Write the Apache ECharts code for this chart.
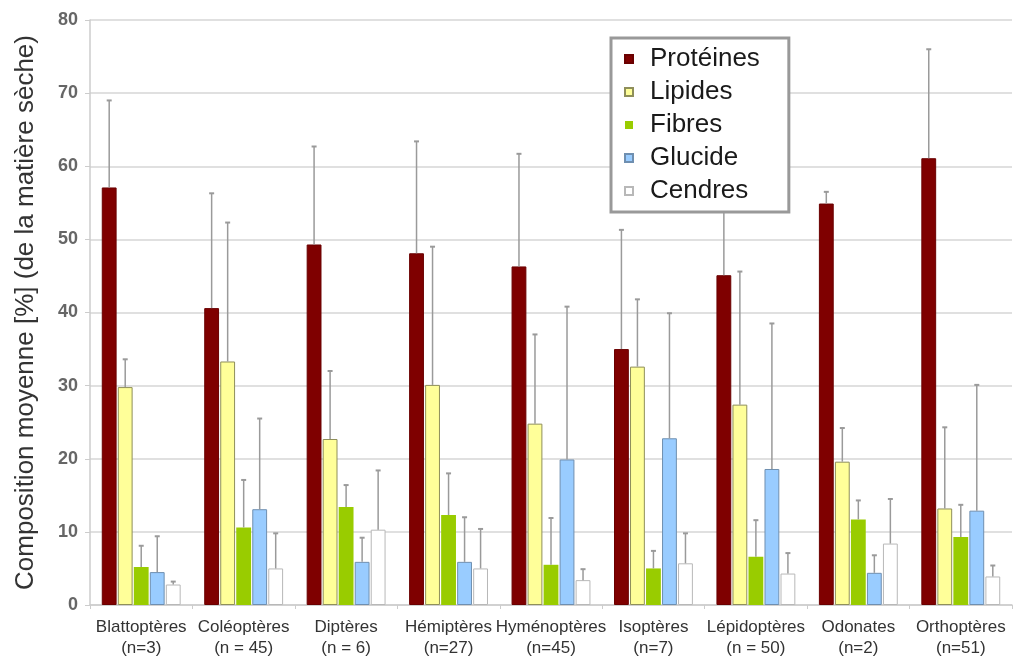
<!DOCTYPE html>
<html>
<head>
<meta charset="utf-8">
<script src="https://cdn.jsdelivr.net/npm/echarts@6/dist/echarts.min.js"></script>
<style>
html,body{margin:0;padding:0;background:#fff;}
#chart{width:1016px;height:660px;}
</style>
</head>
<body>
<div id="chart"></div>
<script>
var categories = ['Blattoptères','Coléoptères','Diptères','Hémiptères','Hyménoptères','Isoptères','Lépidoptères','Odonates','Orthoptères'];
var sampleLabels = ['(n=3)','(n = 45)','(n = 6)','(n=27)','(n=45)','(n=7)','(n = 50)','(n=2)','(n=51)'];
var seriesNames = ['Protéines','Lipides','Fibres','Glucide','Cendres'];

var proteines = [57.1, 40.6, 49.3, 48.1, 46.3, 35.0, 45.1, 54.9, 61.1];
var lipides   = [29.8, 33.3, 22.7, 30.1, 24.8, 32.6, 27.4, 19.6, 13.2];
var fibres    = [5.2, 10.6, 13.4, 12.3, 5.5, 5.0, 6.6, 11.7, 9.3];
var glucide   = [4.5, 13.1, 5.9, 5.9, 19.9, 22.8, 18.6, 4.4, 12.9];
var cendres   = [2.8, 5.0, 10.3, 5.0, 3.4, 5.7, 4.3, 8.4, 3.9];

// upper end of error bars (mean + SD)
var proteinesErr = [69.0, 56.3, 62.7, 63.4, 61.7, 51.3, 56.0, 56.5, 76.0];
var lipidesErr   = [33.6, 52.3, 32.0, 49.0, 37.0, 41.8, 45.6, 24.2, 24.3];
var fibresErr    = [8.1, 17.1, 16.4, 18.0, 11.9, 7.4, 11.6, 14.3, 13.7];
var glucideErr   = [9.4, 25.5, 9.2, 12.0, 40.8, 39.9, 38.5, 6.8, 30.1];
var cendresErr   = [3.2, 9.8, 18.4, 10.4, 4.9, 9.8, 7.1, 14.5, 5.4];

var values = [proteines, lipides, fibres, glucide, cendres];
var errs = [proteinesErr, lipidesErr, fibresErr, glucideErr, cendresErr];

var fills = ['#7f0000', '#ffff99', '#99cc00', '#99ccff', '#ffffff'];
var borders = ['#6a0000', '#8f8f5a', '#88b800', '#6f8fb0', '#b8b8b8'];

var CAT_GAP = 0.23, BAR_GAP = 0.08, N = 5;

var series = [];
seriesNames.forEach(function (name, i) {
  series.push({
    name: name,
    type: 'bar',
    data: values[i],
    barCategoryGap: '23%',
    barGap: '8%',
    itemStyle: { color: fills[i], borderColor: borders[i], borderWidth: (i === 2 ? 0 : 1) },
    z: 2
  });
});
seriesNames.forEach(function (name, i) {
  var data = values[i].map(function (v, k) { return [k, v, errs[i][k]]; });
  series.push({
    type: 'custom',
    name: name + '_err',
    data: data,
    z: 3,
    silent: true,
    encode: { x: 0, y: [1, 2] },
    renderItem: function (params, api) {
      var k = api.value(0);
      var band = api.size([1, 0])[0];
      var area = band * (1 - CAT_GAP);
      var w = area / (N + (N - 1) * BAR_GAP);
      var center = api.coord([k, 0])[0];
      var x = center - area / 2 + i * w * (1 + BAR_GAP) + w / 2;
      var y0 = api.coord([k, api.value(1)])[1];
      var y1 = api.coord([k, api.value(2)])[1];
      var style = { stroke: '#9a9a9a', lineWidth: 1.5 };
      return {
        type: 'group',
        children: [
          { type: 'line', shape: { x1: x, y1: y0, x2: x, y2: y1 }, style: style },
          { type: 'line', shape: { x1: x - 2.5, y1: y1, x2: x + 2.5, y2: y1 }, style: { stroke: '#9a9a9a', lineWidth: 2 } }
        ]
      };
    }
  });
});

var chart = echarts.init(document.getElementById('chart'), null, { renderer: 'canvas' });
chart.setOption({
  animation: false,
  backgroundColor: '#ffffff',
  textStyle: { fontFamily: 'Liberation Sans, Arial, sans-serif' },
  grid: { left: 90, right: 4, top: 20, bottom: 55, containLabel: false },
  legend: {
    data: seriesNames,
    orient: 'vertical',
    left: 611,
    top: 38,
    z: 10,
    backgroundColor: '#ffffff',
    borderColor: '#999999',
    borderWidth: 3,
    padding: [8, 29, 8, 13],
    itemWidth: 8,
    itemHeight: 8,
    itemGap: 7,
    icon: 'rect',
    selectedMode: false,
    textStyle: { fontSize: 26, color: '#1a1a1a', lineHeight: 26, padding: [0, 0, 0, 12], fontFamily: 'Liberation Sans, Arial, sans-serif' }
  },
  xAxis: {
    type: 'category',
    data: categories,
    axisLine: { show: true, lineStyle: { color: '#cccccc', width: 1.5 } },
    axisTick: { show: true, length: 4, lineStyle: { color: '#cccccc' } },
    axisLabel: {
      interval: 0,
      margin: 12,
      fontSize: 17,
      lineHeight: 21,
      color: '#333333',
      formatter: function (v, idx) { return v + '\n' + sampleLabels[idx]; }
    }
  },
  yAxis: {
    type: 'value',
    min: 0,
    max: 80,
    interval: 10,
    name: 'Composition moyenne [%] (de la matière sèche)',
    nameLocation: 'middle',
    nameGap: 51,
    nameTextStyle: { fontSize: 26, color: '#333333' },
    axisLine: { show: true, lineStyle: { color: '#cccccc', width: 1.5 } },
    axisTick: { show: true, length: 5, lineStyle: { color: '#cccccc' } },
    axisLabel: { fontSize: 18, fontWeight: 'bold', color: '#666666', margin: 12 },
    splitLine: { show: true, lineStyle: { color: '#d6d6d6', width: 1.5 } }
  },
  series: series
});
</script>
</body>
</html>
